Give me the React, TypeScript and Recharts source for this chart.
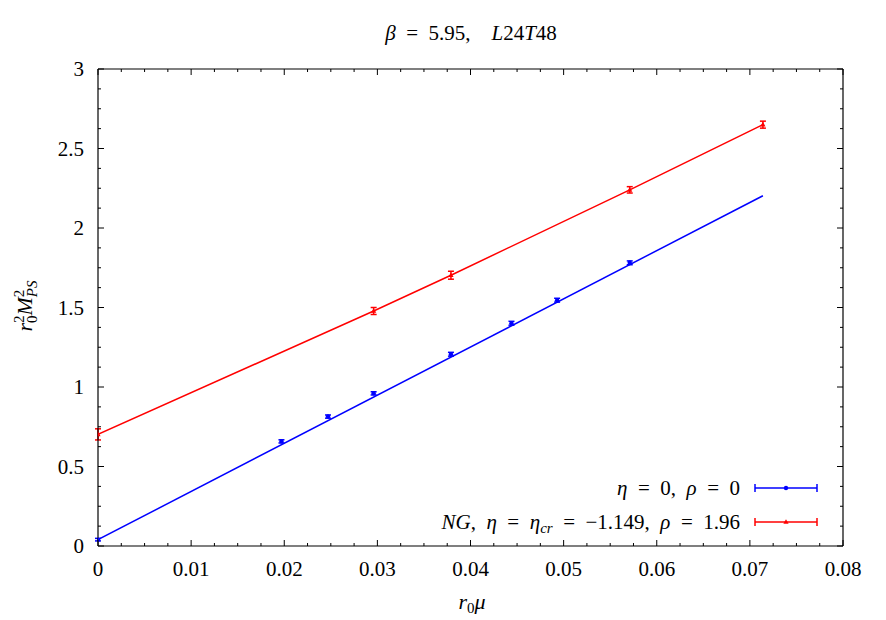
import React from "react";
import {
  ComposedChart,
  Line,
  Scatter,
  ErrorBar,
  XAxis,
  YAxis,
  Customized,
} from "recharts";

// tick labels
const xTickLabels = ["0", "0.01", "0.02", "0.03", "0.04", "0.05", "0.06", "0.07", "0.08"];
const yTickLabels = ["0", "0.5", "1", "1.5", "2", "2.5", "3"];
const xMajor = [0, 0.01, 0.02, 0.03, 0.04, 0.05, 0.06, 0.07, 0.08];
const yMajor = [0, 0.5, 1, 1.5, 2, 2.5, 3];

// eta = 0, rho = 0
const blueX = [0, 0.0197, 0.0247, 0.0296, 0.0379, 0.0444, 0.0493, 0.0571];
const blueY = [0.04, 0.658, 0.814, 0.96, 1.206, 1.401, 1.546, 1.781];
const blueErr = [0.008, 0.01, 0.01, 0.01, 0.012, 0.012, 0.012, 0.012];
const blueFitX = [0, 0.0714];
const blueFitY = [0.04, 2.203];

// NG, eta = eta_cr (line joins the points)
const redX = [0, 0.0296, 0.0379, 0.0571, 0.0714];
const redY = [0.702, 1.478, 1.703, 2.24, 2.65];
const redErr = [0.035, 0.022, 0.025, 0.02, 0.022];

const BLUE = "#0000ff";
const RED = "#ff0000";
const FONT = "Liberation Serif, Tinos, Times New Roman, DejaVu Serif, serif";
const NB = "\u00A0";
const S2 = NB + NB;

const pts = (xs: number[], ys: number[], es?: number[]) =>
  xs.map((x, i) => ({ x, y: ys[i], err: es ? es[i] : 0 }));

const blueData = pts(blueX, blueY, blueErr);
const redData = pts(redX, redY, redErr);
const blueFit = pts(blueFitX, blueFitY);

// major + minor ticks (quarter steps)
const withMinor = (major: number[], step: number) =>
  major.flatMap((m, i) =>
    i === major.length - 1 ? [m] : [m, m + step / 4, m + step / 2, m + (3 * step) / 4]
  );
const xTicks = withMinor(xMajor, 0.01);
const yTicks = withMinor(yMajor, 0.5);

const majorIndex = (v: number, major: number[]) =>
  major.findIndex((m) => Math.abs(m - v) < 1e-9);

const txt = { fontFamily: FONT };

const BottomTick = (props: any) => {
  const { x, y, payload } = props;
  const i = majorIndex(payload.value, xMajor);
  return (
    <g>
      <line x1={x} x2={x} y1={y} y2={y - (i >= 0 ? 6 : 3)} stroke="#000" strokeWidth={1} />
      {i >= 0 && (
        <text x={x} y={y + 30} textAnchor="middle" style={txt} fontSize={21} fill="#000">
          {xTickLabels[i]}
        </text>
      )}
    </g>
  );
};

const TopTick = (props: any) => {
  const { x, y, payload } = props;
  const i = majorIndex(payload.value, xMajor);
  return <line x1={x} x2={x} y1={y} y2={y + (i >= 0 ? 6 : 3)} stroke="#000" strokeWidth={1} />;
};

const LeftTick = (props: any) => {
  const { x, y, payload } = props;
  const i = majorIndex(payload.value, yMajor);
  return (
    <g>
      <line x1={x} x2={x + (i >= 0 ? 6 : 3)} y1={y} y2={y} stroke="#000" strokeWidth={1} />
      {i >= 0 && (
        <text x={x - 14} y={y + 7} textAnchor="end" style={txt} fontSize={21} fill="#000">
          {yTickLabels[i]}
        </text>
      )}
    </g>
  );
};

const RightTick = (props: any) => {
  const { x, y, payload } = props;
  const i = majorIndex(payload.value, yMajor);
  return <line x1={x} x2={x - (i >= 0 ? 6 : 3)} y1={y} y2={y} stroke="#000" strokeWidth={1} />;
};

const Dot = (props: any) => {
  const { cx, cy } = props;
  if (cx == null || cy == null) return <g />;
  return <circle cx={cx} cy={cy} r={2.2} fill={BLUE} />;
};

const Tri = (props: any) => {
  const { cx, cy } = props;
  if (cx == null || cy == null) return <g />;
  return <polygon points={`${cx},${cy - 2.8} ${cx - 2.6},${cy + 1.8} ${cx + 2.6},${cy + 1.8}`} fill={RED} />;
};

const Decorations = () => (
  <g style={txt} fill="#000">
    {/* title */}
    <text x={471} y={40} textAnchor="middle" fontSize={21} style={txt}>
      <tspan fontStyle="italic">β</tspan>
      <tspan>{`${S2}=${S2}5.95,${S2}${S2}`}</tspan>
      <tspan fontStyle="italic">L</tspan>
      <tspan>24</tspan>
      <tspan fontStyle="italic">T</tspan>
      <tspan>48</tspan>
    </text>
    {/* x label */}
    <text x={472} y={609} textAnchor="middle" fontSize={22} style={txt}>
      <tspan fontStyle="italic">r</tspan>
      <tspan fontSize={15} dy={4}>0</tspan>
      <tspan fontStyle="italic" dy={-4}>μ</tspan>
    </text>
    {/* y label */}
    <text x={0} y={0} transform="translate(32,306) rotate(-90)" textAnchor="middle" fontSize={22} style={txt}>
      <tspan fontStyle="italic">r</tspan>
      <tspan fontSize={15} dy={5}>0</tspan>
      <tspan fontSize={15} dx={-7.5} dy={-13}>2</tspan>
      <tspan fontStyle="italic" dy={8}>M</tspan>
      <tspan fontSize={15} dy={-8}>2</tspan>
      <tspan fontSize={15} fontStyle="italic" dx={-7.5} dy={13}>PS</tspan>
    </text>
    {/* legend */}
    <text x={740} y={495} textAnchor="end" fontSize={21} fontStyle="italic" style={txt}>
      <tspan>η</tspan>
      <tspan fontStyle="normal">{`${S2}=${S2}0,${S2}`}</tspan>
      <tspan>ρ</tspan>
      <tspan fontStyle="normal">{`${S2}=${S2}0`}</tspan>
    </text>
    <text x={740} y={529} textAnchor="end" fontSize={21} fontStyle="italic" style={txt}>
      <tspan>NG</tspan>
      <tspan fontStyle="normal">{`,${S2}`}</tspan>
      <tspan>η</tspan>
      <tspan fontStyle="normal">{`${S2}=${S2}`}</tspan>
      <tspan>η</tspan>
      <tspan fontSize={15} dy={4}>cr</tspan>
      <tspan fontStyle="normal" dy={-4}>{`${S2}=${S2}−1.149,${S2}`}</tspan>
      <tspan>ρ</tspan>
      <tspan fontStyle="normal">{`${S2}=${S2}1.96`}</tspan>
    </text>
    <g stroke={BLUE} strokeWidth={1.5}>
      <line x1={755} x2={817} y1={488} y2={488} />
      <line x1={755} x2={755} y1={484} y2={492} />
      <line x1={817} x2={817} y1={484} y2={492} />
    </g>
    <circle cx={786} cy={488} r={2.2} fill={BLUE} />
    <g stroke={RED} strokeWidth={1.5}>
      <line x1={755} x2={817} y1={522} y2={522} />
      <line x1={755} x2={755} y1={518} y2={526} />
      <line x1={817} x2={817} y1={518} y2={526} />
    </g>
    <polygon points="786,519.2 783.4,523.8 788.6,523.8" fill={RED} />
  </g>
);

export default function App() {
  return (
    <div style={{ position: "absolute", left: 0, top: 0, width: 886, height: 620, background: "#fff" }}>
      <ComposedChart
        width={886}
        height={620}
        margin={{ top: 68, right: 42, bottom: 34, left: 38 }}
      >
        <XAxis
          xAxisId="bottom"
          dataKey="x"
          type="number"
          domain={[0, 0.08]}
          ticks={xTicks}
          interval={0}
          tickSize={0}
          tickMargin={0}
          tickLine={false}
          tick={<BottomTick />}
          height={40}
          axisLine={{ stroke: "#000", strokeWidth: 1.2 }}
          allowDataOverflow
        />
        <XAxis
          xAxisId="top"
          orientation="top"
          dataKey="x"
          type="number"
          domain={[0, 0.08]}
          ticks={xTicks}
          interval={0}
          tickSize={0}
          tickMargin={0}
          tickLine={false}
          tick={<TopTick />}
          height={1}
          axisLine={{ stroke: "#000", strokeWidth: 1.2 }}
          allowDataOverflow
        />
        <YAxis
          yAxisId="left"
          type="number"
          domain={[0, 3]}
          ticks={yTicks}
          interval={0}
          tickSize={0}
          tickMargin={0}
          tickLine={false}
          tick={<LeftTick />}
          width={60}
          axisLine={{ stroke: "#000", strokeWidth: 1.2 }}
          allowDataOverflow
        />
        <YAxis
          yAxisId="right"
          orientation="right"
          type="number"
          domain={[0, 3]}
          ticks={yTicks}
          interval={0}
          tickSize={0}
          tickMargin={0}
          tickLine={false}
          tick={<RightTick />}
          width={1}
          axisLine={{ stroke: "#000", strokeWidth: 1.2 }}
          allowDataOverflow
        />
        <Line
          xAxisId="bottom"
          yAxisId="left"
          data={blueFit}
          dataKey="y"
          stroke={BLUE}
          strokeWidth={1.5}
          dot={false}
          isAnimationActive={false}
        />
        <Line
          xAxisId="bottom"
          yAxisId="left"
          data={redData}
          dataKey="y"
          stroke={RED}
          strokeWidth={1.5}
          dot={false}
          isAnimationActive={false}
        />
        <Scatter
          xAxisId="bottom"
          yAxisId="left"
          data={blueData}
          dataKey="y"
          fill={BLUE}
          shape={<Dot />}
          isAnimationActive={false}
        >
          <ErrorBar dataKey="err" direction="y" width={3} stroke={BLUE} strokeWidth={1.5} isAnimationActive={false} />
        </Scatter>
        <Scatter
          xAxisId="bottom"
          yAxisId="left"
          data={redData}
          dataKey="y"
          fill={RED}
          shape={<Tri />}
          isAnimationActive={false}
        >
          <ErrorBar dataKey="err" direction="y" width={3} stroke={RED} strokeWidth={1.5} isAnimationActive={false} />
        </Scatter>
        <Customized component={Decorations} />
      </ComposedChart>
    </div>
  );
}
